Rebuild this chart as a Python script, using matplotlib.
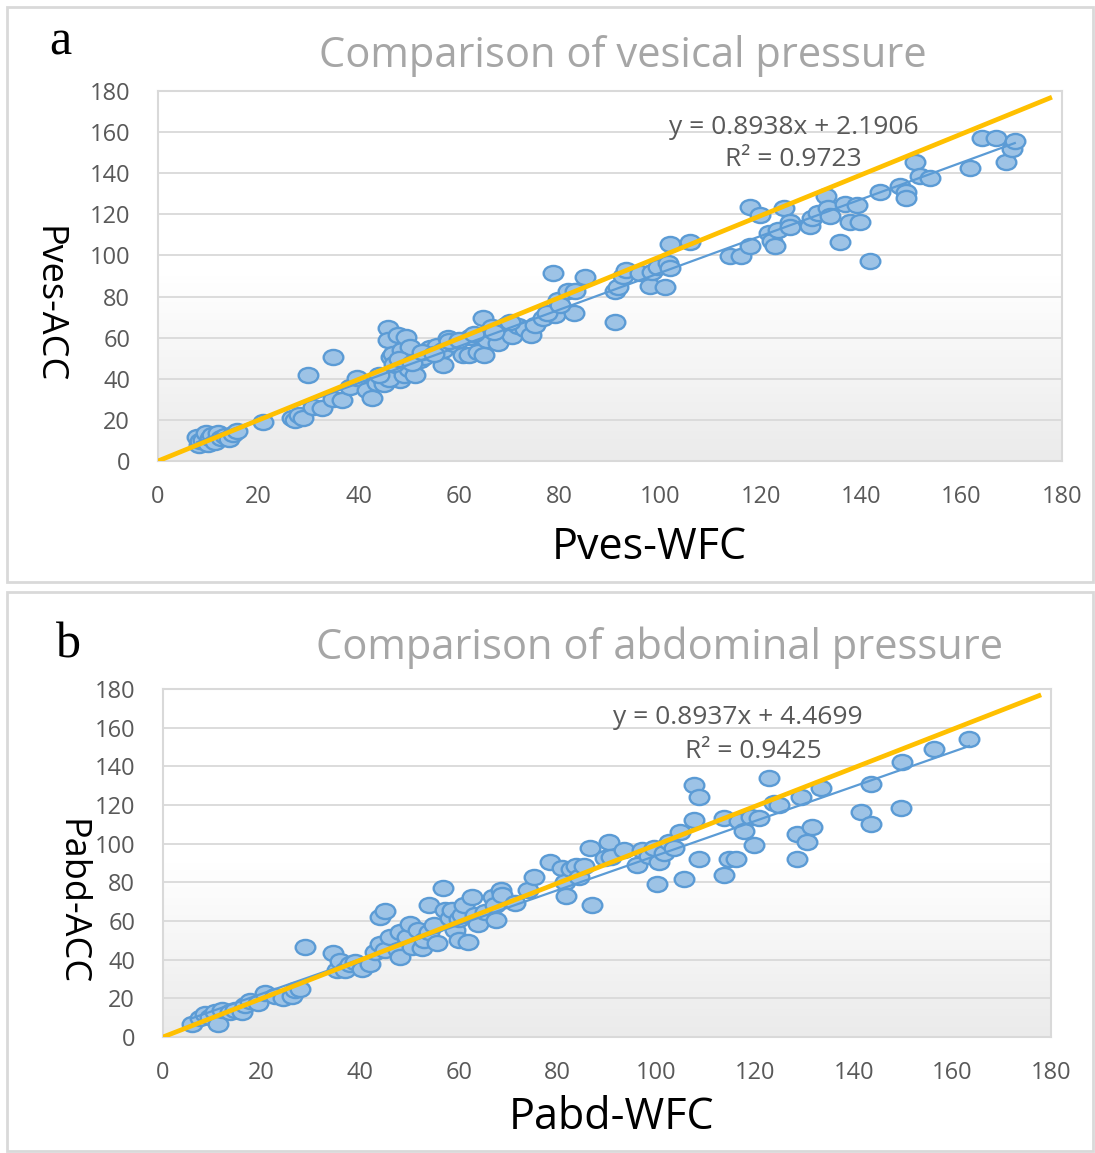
import numpy as np
import matplotlib
matplotlib.use("Agg")
import matplotlib.pyplot as plt
from matplotlib.path import Path
from matplotlib.patches import Rectangle
from matplotlib.colors import LinearSegmentedColormap

W, H = 1095, 1153

# ---------------- data : panel a (vesical pressure) ----------------
ves_wfc = [7.8, 8.2, 8.4, 9.0, 9.6, 10.0, 10.4, 10.8, 11.4, 12.0, 12.6, 13.4, 14.2, 15.0, 15.8,
           20.9, 26.7, 27.3, 28.0, 28.9, 29.9, 30.9, 32.7, 34.8, 34.8, 36.7, 38.2, 39.6, 41.6, 42.6,
           43.6, 44.6, 45.0, 45.8, 45.8, 46.4, 46.8, 47.8, 48.6, 49.4, 50.2, 47.4, 48.2, 46.0, 49.0,
           50.0, 51.2, 52.2, 53.0, 54.2, 55.5, 56.7, 56.7, 57.8, 59.0, 60.7, 61.9, 62.1, 63.7, 64.7,
           64.9, 65.6, 66.5, 67.7, 69.3, 70.5, 71.7, 73.0, 74.3, 75.0, 76.7, 78.7, 79.0, 79.6, 81.7,
           82.8, 83.0, 85.0, 91.0, 91.0, 91.6, 92.6, 93.2, 96.0, 98.0, 98.4, 99.5, 101.0, 101.5, 102.0,
           102.0, 106.0, 113.9, 116.0, 117.9, 117.9, 119.8, 121.7, 122.3, 122.9, 123.5, 124.7, 125.9, 125.9, 129.8,
           130.3, 131.5, 133.0, 133.4, 133.8, 135.8, 136.8, 137.8, 139.2, 139.8, 141.8, 143.8, 147.7, 148.9, 148.9,
           150.8, 151.8, 153.7, 161.7, 164.0, 166.9, 168.9, 170.0, 170.6,
           44.0, 47.0, 48.0, 50.5, 52.5, 55.0, 58.0, 60.0, 63.0, 67.0, 70.0, 77.5, 80.0]
ves_acc = [11.7, 7.8, 9.5, 10.2, 13.4, 8.2, 11.0, 12.8, 9.4, 13.6, 11.0, 12.4, 10.6, 13.2, 14.8,
           19.0, 21.0, 19.8, 22.4, 21.0, 41.8, 26.3, 25.8, 50.6, 30.0, 29.7, 36.0, 40.4, 34.5, 30.6,
           38.0, 40.2, 37.5, 64.7, 58.9, 50.6, 52.0, 61.3, 54.0, 60.3, 55.4, 44.3, 39.4, 40.0, 41.8,
           45.0, 41.8, 49.0, 50.5, 55.0, 56.0, 46.7, 54.0, 59.8, 57.0, 51.6, 51.6, 60.3, 53.0, 69.6,
           51.6, 59.0, 65.2, 57.4, 66.0, 60.8, 65.7, 64.0, 61.3, 66.0, 69.6, 91.4, 71.0, 78.3, 82.7,
           72.0, 82.7, 89.5, 67.6, 82.7, 84.6, 90.0, 92.9, 91.4, 85.0, 92.0, 94.5, 84.6, 96.3, 105.5,
           94.0, 106.5, 99.7, 99.7, 123.5, 104.6, 119.6, 110.9, 107.0, 104.6, 112.5, 123.0, 116.2, 114.0, 114.3,
           118.2, 120.5, 128.9, 123.0, 119.0, 106.5, 125.0, 116.2, 124.5, 116.2, 97.3, 130.8, 133.8, 131.0, 127.9,
           145.4, 138.6, 137.6, 142.5, 157.0, 157.0, 145.4, 151.7, 155.6,
           42.0, 47.0, 49.5, 47.5, 53.0, 52.0, 58.5, 59.0, 62.0, 63.0, 67.5, 72.0, 76.0]

# ---------------- data : panel b (abdominal pressure) ----------------
abd_wfc = [5.9, 7.5, 8.5, 9.5, 10.5, 11.1, 11.9, 13.6, 14.6, 16.0, 16.6, 17.6, 19.2, 20.7, 22.7,
           24.3, 26.1, 26.7, 27.7, 28.7, 34.4, 35.2, 35.8, 36.8, 37.9, 38.9, 40.3, 41.9, 42.9, 43.9,
           44.9, 43.9, 45.0, 46.0, 47.6, 48.0, 48.0, 49.5, 50.0, 50.4, 51.6, 52.4, 53.0, 54.0, 54.0,
           55.0, 55.5, 56.7, 57.1, 58.1, 58.6, 59.1, 60.1, 60.1, 60.7, 61.1, 61.8, 62.6, 63.2, 63.8,
           65.2, 66.8, 67.2, 67.6, 68.6, 68.8, 71.3, 73.9, 75.3, 78.4, 80.8, 81.4, 81.6, 82.8, 83.8,
           84.4, 85.4, 86.5, 86.9, 89.5, 90.5, 90.9, 93.5, 96.0, 97.0, 98.6, 99.6, 100.2, 100.6, 101.6,
           102.6, 103.6, 104.7, 105.7, 107.7, 107.7, 108.7, 108.7, 113.8, 113.8, 114.8, 116.2, 116.8, 117.8, 119.2,
           119.8, 120.9, 122.9, 123.9, 124.9, 128.6, 128.6, 129.4, 130.6, 131.6, 133.4, 141.5, 143.6, 143.6, 149.6,
           149.8, 156.3, 163.4]
abd_acc = [6.7, 9.8, 11.9, 10.5, 12.9, 6.7, 14.0, 12.9, 13.8, 12.9, 16.6, 18.6, 17.6, 22.8, 21.2,
           20.2, 21.2, 24.3, 24.8, 46.6, 43.5, 34.7, 39.3, 34.7, 37.8, 38.8, 35.2, 37.8, 44.0, 48.0,
           45.0, 62.0, 65.0, 51.7, 45.0, 54.3, 41.4, 51.7, 58.5, 46.6, 55.4, 46.0, 50.0, 68.3, 54.3,
           58.0, 48.6, 77.0, 65.7, 61.6, 65.7, 55.4, 61.0, 50.2, 63.0, 68.3, 49.1, 72.4, 63.0, 58.5,
           64.5, 72.4, 68.3, 60.5, 76.0, 73.4, 69.3, 76.0, 82.8, 90.5, 87.4, 80.2, 72.9, 86.9, 88.5,
           82.8, 88.5, 97.8, 68.3, 92.6, 100.9, 93.0, 96.7, 89.0, 96.7, 93.6, 97.8, 79.2, 90.5, 95.2,
           100.9, 98.0, 106.0, 81.7, 130.4, 112.3, 124.2, 92.0, 113.3, 83.8, 92.0, 92.0, 111.7, 106.6, 113.8,
           99.3, 113.3, 134.0, 121.0, 120.0, 105.0, 92.0, 124.2, 100.9, 108.6, 128.8, 116.4, 110.2, 130.9, 118.5,
           142.3, 149.0, 154.2]

ticks = [0, 20, 40, 60, 80, 100, 120, 140, 160, 180]
ves_fit = (0.8938, 2.1906, 0.9723)
abd_fit = (0.8937, 4.4699, 0.9425)

FONT = "Open Sans"
TICK_C = "#595959"
GRID_C = "#d9d9d9"
BLUE = "#5b9bd5"
FACE = "#9dc3e6"
ORANGE = "#ffc000"

# slightly wide ellipse marker, like the stretched excel bubbles
circ = Path.unit_circle()
ell = Path(circ.vertices * np.array([1.3, 1.0]), circ.codes)

grad = LinearSegmentedColormap.from_list("bg", ["#ffffff", "#ffffff", "#ebebeb"])


def px(x, y):
    return x / W, 1 - y / H


def draw_panel(ax, xs, ys, fit, eq_xy, r2_xy):
    slope, icpt, r2 = fit
    # gradient plot area
    ax.imshow(np.linspace(1, 0, 100).reshape(-1, 1), extent=[0, 180, 0, 180], origin="lower",
              aspect="auto", cmap=grad, zorder=0)
    ax.set_xlim(0, 180)
    ax.set_ylim(0, 180)
    ax.set_xticks(ticks)
    ax.set_yticks(ticks)
    ax.yaxis.grid(True, color=GRID_C, lw=1.3, zorder=1)
    ax.set_axisbelow(True)
    for s in ax.spines.values():
        s.set_color(GRID_C)
        s.set_linewidth(1.5)
    ax.tick_params(length=0, colors=TICK_C, labelsize=17)
    ax.tick_params(axis="x", pad=17)
    ax.tick_params(axis="y", pad=20)
    for lab in ax.get_xticklabels() + ax.get_yticklabels():
        lab.set_fontfamily(FONT)

    xs = np.array(xs)
    ys = np.array(ys)
    ax.scatter(xs, ys, s=200, marker=ell, facecolor=FACE, edgecolor=BLUE, linewidth=1.7, zorder=3)

    # linear trendline
    tx = np.array([xs.min(), xs.max()])
    ax.plot(tx, slope * tx + icpt, color=BLUE, lw=1.6, zorder=4)
    # reference line
    ax.plot([0, 178], [0, 177], color=ORANGE, lw=3.4, zorder=5, solid_capstyle="butt")

    fig = ax.figure
    fig.text(*px(*eq_xy), "y = %.4fx + %.4f" % (slope, icpt), ha="center", va="center",
             fontsize=19, color=TICK_C, family=FONT)
    fig.text(*px(*r2_xy), "R\u00b2 = %.4f" % r2, ha="center", va="center",
             fontsize=19, color=TICK_C, family=FONT)


fig = plt.figure(figsize=(W / 100, H / 100), dpi=100)

# panel frames
for top, bot in [(7, 582), (592, 1151)]:
    fig.patches.append(Rectangle(px(7, bot), 1086 / W, (bot - top) / H, transform=fig.transFigure,
                                 fill=False, edgecolor="#d9d9d9", lw=2))

ax1 = fig.add_axes([158 / W, 1 - 461 / H, (1062 - 158) / W, (461 - 91) / H])
draw_panel(ax1, ves_wfc, ves_acc, ves_fit, (794, 128), (793, 160))
ax2 = fig.add_axes([163 / W, 1 - 1037 / H, (1051 - 163) / W, (1037 - 689) / H])
draw_panel(ax2, abd_wfc, abd_acc, abd_fit, (738, 718), (753, 751))

# titles / labels
fig.text(*px(623, 56), "Comparison of vesical pressure", ha="center", va="center",
         fontsize=30, color="#a6a6a6", family=FONT)
fig.text(*px(660, 648), "Comparison of abdominal pressure", ha="center", va="center",
         fontsize=30, color="#a6a6a6", family=FONT)
fig.text(*px(649, 548), "Pves-WFC", ha="center", va="center", fontsize=31, family=FONT)
fig.text(*px(612, 1118), "Pabd-WFC", ha="center", va="center", fontsize=31, family=FONT)
fig.text(*px(47, 305), "Pves-ACC", ha="center", va="center", rotation=270, fontsize=26, family=FONT)
fig.text(*px(70, 902), "Pabd-ACC", ha="center", va="center", rotation=270, fontsize=26, family=FONT)
fig.text(*px(60, 42), "a", ha="center", va="center", fontsize=36, family="Liberation Serif")
fig.text(*px(68, 645), "b", ha="center", va="center", fontsize=36, family="Liberation Serif")

fig.savefig("out.png", dpi=100)
